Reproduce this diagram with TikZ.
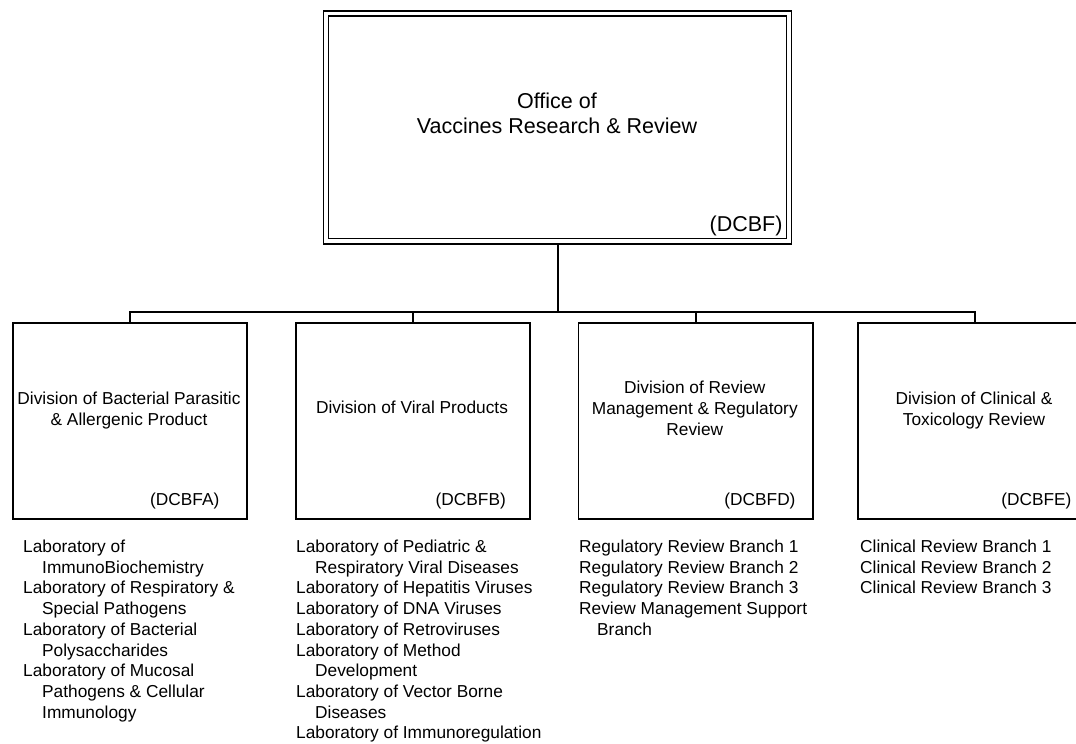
\documentclass[tikz,border=0pt]{standalone}
\usepackage{fontspec}
\setmainfont{Liberation Sans}
\begin{document}
\begin{tikzpicture}[x=1pt,y=-1pt,
  frame/.style={draw=black,line width=1.8pt},
  thin frame/.style={draw=black,line width=1.6pt},
  conn/.style={draw=black,line width=2pt},
  divbox/.style={frame,minimum width=234.5pt,minimum height=195.5pt,inner sep=0pt,anchor=north west},
  divtext/.style={align=center,inner sep=0pt,font={\fontsize{17.3}{20.7}\selectfont}},
  code/.style={anchor=base east,inner sep=0pt,font={\fontsize{17.3}{20.7}\selectfont}},
  list/.style={anchor=north west,align=left,inner sep=0pt,font={\fontsize{17.3}{20.7}\selectfont}}
]
\useasboundingbox (0,0) rectangle (1076,744);
\clip (0,0) rectangle (1076,744);
\fill[white] (0,0) rectangle (1076,744);

% top office box (double border)
\draw[thin frame] (323.5,11) rectangle (791.5,244);
\node[thin frame,minimum width=458pt,minimum height=222.5pt,inner sep=0pt] (office) at (557.5,127.25) {};
\node[align=center,inner sep=0pt,font={\fontsize{21.5}{25}\selectfont}] (officetxt) at (557,112.9) {Office of\\Vaccines Research \& Review};
\node[code,font={\fontsize{21.5}{25}\selectfont}] (officecode) at (782.7,231.7) {(DCBF)};
\coordinate (officebottom) at (557.5,244);

% division boxes
\node[divbox] (divA) at (11.8,322.3) {};
\node[divbox] (divB) at (294.8,322.3) {};
\node[divbox] (divD) at (577.5,322.3) {};
\node[divbox] (divE) at (856.7,322.3) {};

% connectors
\coordinate (bus) at (557.5,312);
\draw[conn] (officebottom) -- (bus);
\draw[conn] (divA.north) |- (bus);
\draw[conn] (divB.north) |- (bus);
\draw[conn] (divD.north) |- (bus);
\draw[conn] (divE.north) |- (bus);

% division texts
\node[divtext] (divAtxt) at (129,410.8) {Division of Bacterial Parasitic\\\& Allergenic Product};
\node[divtext] (divBtxt) at (412,407.7) {Division of Viral Products};
\node[divtext] (divDtxt) at (694.8,408.4) {Division of Review\\Management \& Regulatory\\Review};
\node[divtext] (divEtxt) at (974,410.3) {Division of Clinical \&\\Toxicology Review};

\node[code] (codeA) at (219.6,505) {(DCBFA)};
\node[code] (codeB) at (506,505) {(DCBFB)};
\node[code] (codeD) at (795.7,505) {(DCBFD)};
\node[code] (codeE) at (1071.7,505) {(DCBFE)};

% lists
\node[list] (listA) at (23,539.8) {Laboratory of\\\hspace*{19pt}ImmunoBiochemistry\\Laboratory of Respiratory \&\\\hspace*{19pt}Special Pathogens\\Laboratory of Bacterial\\\hspace*{19pt}Polysaccharides\\Laboratory of Mucosal\\\hspace*{19pt}Pathogens \& Cellular\\\hspace*{19pt}Immunology};
\node[list] (listB) at (296,539.8) {Laboratory of Pediatric \&\\\hspace*{19pt}Respiratory Viral Diseases\\Laboratory of Hepatitis Viruses\\Laboratory of DNA Viruses\\Laboratory of Retroviruses\\Laboratory of Method\\\hspace*{19pt}Development\\Laboratory of Vector Borne\\\hspace*{19pt}Diseases\\Laboratory of Immunoregulation};
\node[list] (listD) at (579,539.8) {Regulatory Review Branch 1\\Regulatory Review Branch 2\\Regulatory Review Branch 3\\Review Management Support\\\hspace*{18pt}Branch};
\node[list] (listE) at (860,539.8) {Clinical Review Branch 1\\Clinical Review Branch 2\\Clinical Review Branch 3};
\end{tikzpicture}
\end{document}
